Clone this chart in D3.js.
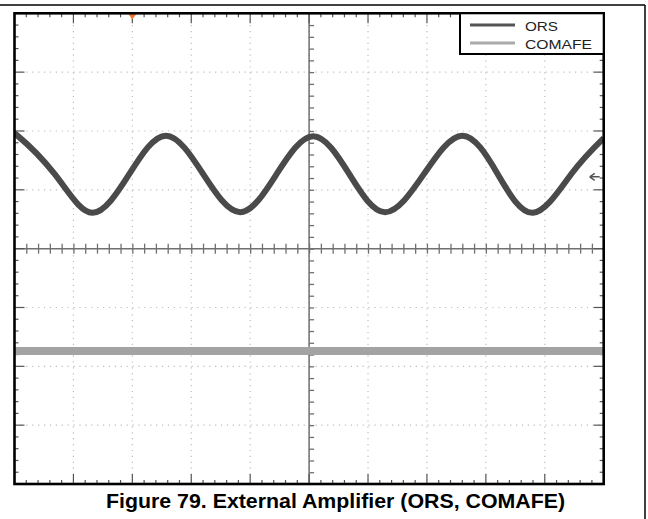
<!DOCTYPE html>
<html>
<head>
<meta charset="utf-8">
<script src="https://cdn.jsdelivr.net/npm/d3@7"></script>
<style>
  html, body { margin: 0; padding: 0; background: #fff; }
  svg { display: block; }
</style>
</head>
<body>
<svg id="chart" width="648" height="519"></svg>
<script>
// Scope capture: time in horizontal divisions (0..10), level in vertical divisions (-4..4)
const orsTime  = [0, 0.04, 0.68, 1.32, 1.95, 2.57, 3.20, 3.83, 4.45, 5.07, 5.68, 6.29, 6.95, 7.60, 8.20, 8.80, 9.45, 10];
const orsLevel = [1.92, 1.93, 1.27, 0.61, 1.27, 1.92, 1.27, 0.62, 1.27, 1.91, 1.27, 0.62, 1.27, 1.92, 1.27, 0.61, 1.27, 1.88];
const comafeTime  = [0, 10];
const comafeLevel = [-1.74, -1.74];
const seriesNames = ["ORS", "COMAFE"];
const caption = "Figure 79. External Amplifier (ORS, COMAFE)";

const svg = d3.select("#chart");
const plot = { left: 14.5, right: 603.7, top: 13.3, bottom: 484 };

const x = d3.scaleLinear().domain([0, 10]).range([plot.left, plot.right]);
const y = d3.scaleLinear().domain([-4, 4]).range([plot.bottom, plot.top]);

// outer figure frame (top rule and right rule)
svg.append("line").attr("x1", 0).attr("x2", 645).attr("y1", 5).attr("y2", 5)
  .attr("stroke", "#000").attr("stroke-width", 1.5);
svg.append("line").attr("x1", 645).attr("x2", 645).attr("y1", 5).attr("y2", 519)
  .attr("stroke", "#000").attr("stroke-width", 1.5);

const g = svg.append("g");

// dotted graticule
const divX = d3.range(1, 10), divY = d3.range(-3, 4).filter(d => d !== 0);
g.selectAll(".gx").data(divX).join("line")
  .attr("x1", d => x(d)).attr("x2", d => x(d)).attr("y1", plot.top).attr("y2", plot.bottom)
  .attr("stroke", "#bdbdbd").attr("stroke-width", 1.2).attr("stroke-dasharray", "1.2,4.7");
g.selectAll(".gy").data(divY).join("line")
  .attr("x1", plot.left).attr("x2", plot.right).attr("y1", d => y(d)).attr("y2", d => y(d))
  .attr("stroke", "#bdbdbd").attr("stroke-width", 1.2).attr("stroke-dasharray", "1.2,4.7");

// centre cross-hair axes with minor ticks
const axisCol = "#707070";
g.append("line").attr("x1", plot.left).attr("x2", plot.right).attr("y1", y(0)).attr("y2", y(0))
  .attr("stroke", axisCol).attr("stroke-width", 1.5);
g.append("line").attr("x1", x(5)).attr("x2", x(5)).attr("y1", plot.top).attr("y2", plot.bottom)
  .attr("stroke", axisCol).attr("stroke-width", 1.5);

const minorX = d3.range(1, 50).map(i => i / 5);
const minorY = d3.range(-19, 20).map(i => i / 5);
g.append("g").attr("transform", `translate(0,${y(0)})`)
  .call(d3.axisBottom(x).tickValues(minorX).tickSize(5).tickFormat(""))
  .call(a => a.select(".domain").remove())
  .call(a => a.selectAll("line").attr("stroke", axisCol).attr("stroke-width", 1.3).attr("y1", -5));
g.append("g").attr("transform", `translate(${x(5)},0)`)
  .call(d3.axisLeft(y).tickValues(minorY).tickSize(5).tickFormat(""))
  .call(a => a.select(".domain").remove())
  .call(a => a.selectAll("line").attr("stroke", axisCol).attr("stroke-width", 1.3).attr("x2", 5));

// border ticks: minor every 1/5 division, longer at each division
const isMajor = d => Math.abs(d - Math.round(d)) < 1e-6;
const tickLen = d => isMajor(d) ? 10 : 4;
g.selectAll(".bt").data(minorX).join("line")
  .attr("x1", d => x(d)).attr("x2", d => x(d)).attr("y1", plot.top).attr("y2", d => plot.top + tickLen(d))
  .attr("stroke", "#555").attr("stroke-width", 1.2);
g.selectAll(".bb").data(minorX).join("line")
  .attr("x1", d => x(d)).attr("x2", d => x(d)).attr("y1", plot.bottom).attr("y2", d => plot.bottom - tickLen(d))
  .attr("stroke", "#555").attr("stroke-width", 1.2);
g.selectAll(".bl").data(minorY).join("line")
  .attr("y1", d => y(d)).attr("y2", d => y(d)).attr("x1", plot.left).attr("x2", d => plot.left + tickLen(d))
  .attr("stroke", "#555").attr("stroke-width", 1.2);
g.selectAll(".br").data(minorY).join("line")
  .attr("y1", d => y(d)).attr("y2", d => y(d)).attr("x1", plot.right).attr("x2", d => plot.right - tickLen(d))
  .attr("stroke", "#555").attr("stroke-width", 1.2);

// traces
svg.append("clipPath").attr("id", "pc").append("rect")
  .attr("x", plot.left).attr("y", plot.top)
  .attr("width", plot.right - plot.left).attr("height", plot.bottom - plot.top);

const line = d3.line().x(d => x(d[0])).y(d => y(d[1])).curve(d3.curveNatural);
const traces = svg.append("g").attr("clip-path", "url(#pc)");
traces.append("path").datum(d3.zip(comafeTime, comafeLevel))
  .attr("d", line).attr("fill", "none").attr("stroke", "#a3a3a3").attr("stroke-width", 8);
traces.append("path").datum(d3.zip(orsTime, orsLevel))
  .attr("d", line).attr("fill", "none").attr("stroke", "#4a4a4a").attr("stroke-width", 6)
  .attr("stroke-linejoin", "round");

// channel reference arrow on the right and trigger marker on top
svg.append("path")
  .attr("d", `M${plot.right - 4},${y(1.22)} h-10 m0,0 l5,-3.5 m-5,3.5 l5,3.5`)
  .attr("stroke", "#555").attr("stroke-width", 1.5).attr("fill", "none");
svg.append("path")
  .attr("d", `M${x(2)-4},${plot.top + 1} h8 l-4,5 z`)
  .attr("fill", "#f07a2a");

// plot border
svg.append("rect").attr("x", plot.left).attr("y", plot.top)
  .attr("width", plot.right - plot.left).attr("height", plot.bottom - plot.top)
  .attr("fill", "none").attr("stroke", "#000").attr("stroke-width", 2.6);

// legend
const lg = svg.append("g");
lg.append("rect").attr("x", 460).attr("y", plot.top).attr("width", plot.right - 460).attr("height", 54 - plot.top)
  .attr("fill", "#fff").attr("stroke", "#000").attr("stroke-width", 2);
const legendColors = ["#555", "#aaa"];
const legendWidths = [33, 67];
seriesNames.forEach((name, i) => {
  const ly = 25 + i * 18;
  lg.append("line").attr("x1", 470).attr("x2", 515).attr("y1", ly).attr("y2", ly)
    .attr("stroke", legendColors[i]).attr("stroke-width", 3);
  lg.append("text").attr("x", 525).attr("y", ly + 5.5)
    .attr("font-family", "Liberation Sans, Arial, sans-serif").attr("font-size", 13.5)
    .attr("textLength", legendWidths[i]).attr("lengthAdjust", "spacingAndGlyphs")
    .attr("fill", "#222").text(name);
});

// caption
svg.append("text").attr("x", 106).attr("y", 508)
  .attr("font-family", "Liberation Sans, Arial, sans-serif").attr("font-weight", "bold")
  .attr("font-size", 19.5).attr("textLength", 459).attr("lengthAdjust", "spacingAndGlyphs")
  .attr("fill", "#000").text(caption);
</script>
</body>
</html>
